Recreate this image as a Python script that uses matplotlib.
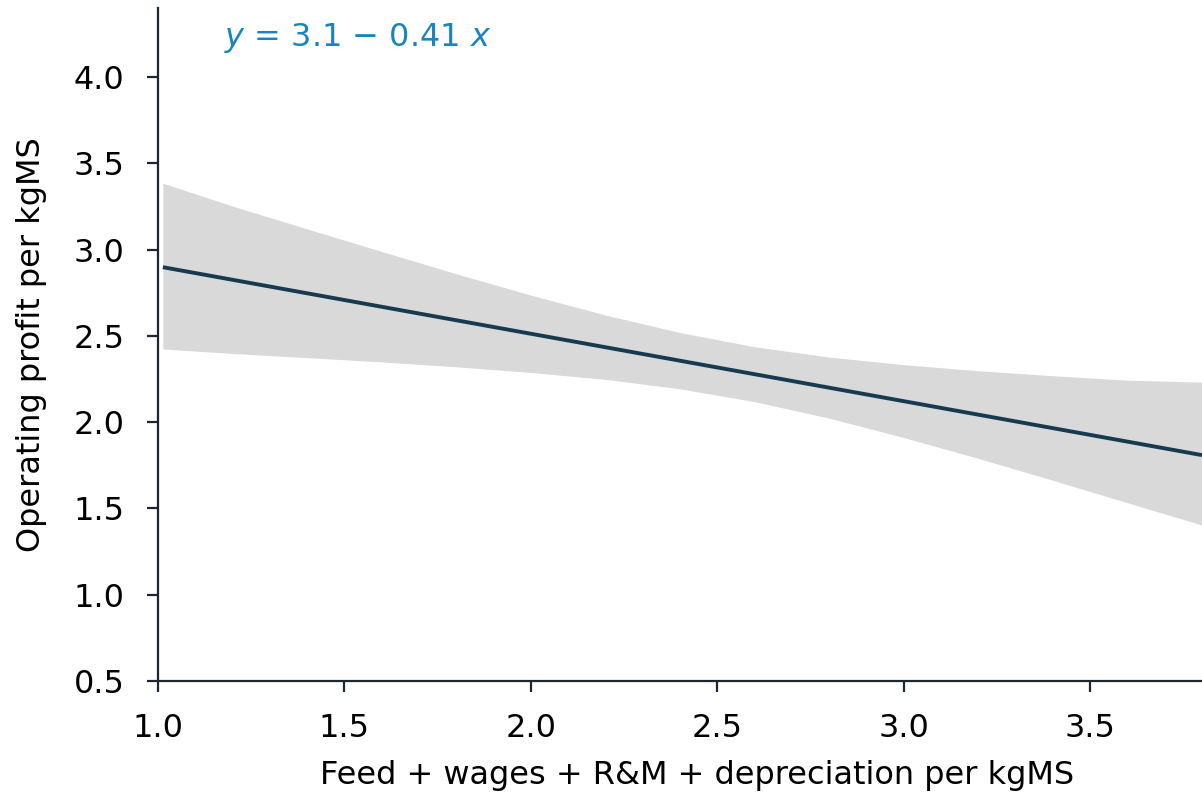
import numpy as np
from matplotlib import pyplot as plt

# fitted line (endpoints)
line_x = [1.013, 3.8]
line_y = [2.898, 1.809]

# confidence band, read at regular steps along x
band_x = [1.013, 1.2, 1.4, 1.6, 1.8, 2.0, 2.2, 2.4, 2.6, 2.8, 3.0, 3.2, 3.4, 3.6, 3.8]
band_upper = [3.385, 3.252, 3.120, 2.989, 2.860, 2.736, 2.621, 2.519,
              2.437, 2.377, 2.333, 2.298, 2.269, 2.243, 2.232]
band_lower = [2.424, 2.398, 2.374, 2.349, 2.321, 2.288, 2.248, 2.193,
              2.119, 2.023, 1.911, 1.790, 1.663, 1.533, 1.404]

x_ticks = [1.0, 1.5, 2.0, 2.5, 3.0, 3.5]
y_ticks = [0.5, 1.0, 1.5, 2.0, 2.5, 3.0, 3.5, 4.0]

dark = "#1c2630"
fs = 23
plt.rcParams['font.family'] = ['DejaVu Sans']

fig = plt.figure(figsize=(12.02, 7.92), dpi=100)
ax = fig.add_axes([158 / 1202, 111 / 792, 1044 / 1202, 673 / 792])

ax.fill_between(band_x, band_lower, band_upper, color="#d9d9d9", linewidth=0)
ax.plot(line_x, line_y, color="#163b50", linewidth=2.8, solid_capstyle="butt")

ax.set_xlim(1.0, 3.8)
ax.set_ylim(0.5, 4.4)
ax.set_xticks(x_ticks)
ax.set_yticks(y_ticks)
ax.set_xticklabels(["%.1f" % v for v in x_ticks])
ax.set_yticklabels(["%.1f" % v for v in y_ticks])

for side in ["top", "right"]:
    ax.spines[side].set_visible(False)
for side in ["left", "bottom"]:
    ax.spines[side].set_color(dark)
    ax.spines[side].set_linewidth(1.6)

ax.tick_params(axis="both", length=8, width=1.6, color=dark,
               labelsize=fs, labelcolor="black")
ax.tick_params(axis="x", pad=15)
ax.tick_params(axis="y", pad=16)

ax.set_xlabel("Feed + wages + R&M + depreciation per kgMS", fontsize=fs)
ax.xaxis.set_label_coords(0.516, -0.117)
ax.set_ylabel("Operating profit per kgMS", fontsize=fs)
ax.yaxis.set_label_coords(-0.106, 0.5)

ax.text(0.063, 0.955, r"$\mathit{y}$ = 3.1 − 0.41 $\mathit{x}$", transform=ax.transAxes,
        fontsize=fs, color="#1a84c0", ha="left", va="center")

fig.savefig("out.png", dpi=100)
